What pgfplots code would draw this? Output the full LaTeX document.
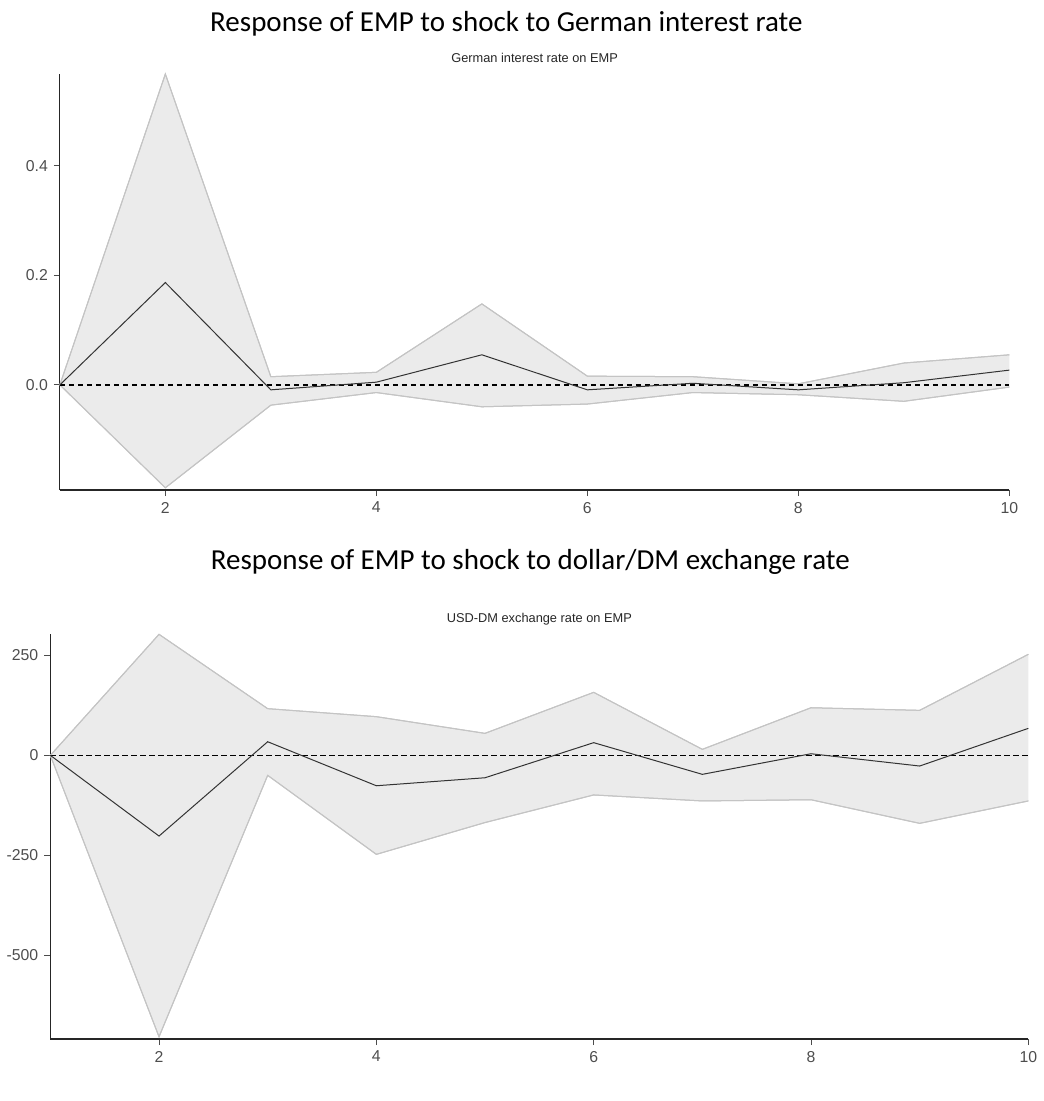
\documentclass[border=0pt]{standalone}
\usepackage{pgfplots}
\pgfplotsset{compat=1.18}
\usepgfplotslibrary{fillbetween}
\usepackage{fontspec}
\setmainfont{Liberation Sans}
\newfontfamily\titlefont{Carlito}

\definecolor{bandfill}{HTML}{EBEBEB}
\definecolor{bandedge}{HTML}{C4C4C4}
\definecolor{ticktext}{HTML}{4D4D4D}
\definecolor{irfline}{HTML}{333333}

% Impulse responses: horizon, lower bound, point estimate, upper bound
\pgfplotstableread{
h   lo       est      up
1   0.000    0.000    0.000
2  -0.188    0.187    0.568
3  -0.037   -0.009    0.015
4  -0.014    0.005    0.023
5  -0.040    0.055    0.148
6  -0.035   -0.009    0.016
7  -0.014    0.003    0.015
8  -0.018   -0.009    0.002
9  -0.030    0.004    0.040
10 -0.004    0.027    0.055
}\germanrate

\pgfplotstableread{
h   lo       est      up
1     0.0     0.0     0.0
2  -703.5  -201.7   302.5
3   -50.0    34.0   116.7
4  -247.5   -76.0    96.7
5  -168.0   -56.0    55.0
6   -99.0    31.7   157.5
7  -114.0   -47.5    15.0
8  -111.0     4.0   119.0
9  -170.0   -26.7   112.5
10 -114.0    67.5   252.5
}\usddm

\pgfplotsset{
  irf/.style={
    scale only axis,
    xmin=1, xmax=10,
    axis x line*=bottom, axis y line*=left,
    axis line style={-, black!85, line width=0.55pt},
    tick align=outside,
    major tick length=3pt,
    tick style={black!70, line width=0.5pt},
    xtick={2,4,6,8,10},
    xticklabels={2,4,6,8,10},
    tick label style={font=\fontsize{7.9}{9}\selectfont, text=ticktext},
    yticklabel style={xshift=0.5pt},
    xticklabel style={yshift=0.5pt},
    clip=false,
    title style={font=\fontsize{6.4}{7.5}\selectfont, text=black!85},
  },
}

\begin{document}
\begin{tikzpicture}[x=1pt,y=1pt]
\path (0,0) rectangle (519,-550.5);

% Upper panel
\node[font=\titlefont\fontsize{14.5}{17}\selectfont, anchor=base] at (252,-16)
  {Response of EMP to shock to German interest rate};
\begin{axis}[irf,
  at={(28.75pt,-245pt)}, anchor=south west,
  width=474.75pt, height=208pt,
  ymin=-0.192, ymax=0.568,
  ytick={0,0.2,0.4}, yticklabels={0.0,0.2,0.4},
  title={German interest rate on EMP},
  title style={at={(0.5,1)}, anchor=south, yshift=-4pt},
]
  \addplot[name path=up, draw=bandedge, line width=0.5pt] table[x=h, y=up] {\germanrate};
  \addplot[name path=lo, draw=bandedge, line width=0.5pt] table[x=h, y=lo] {\germanrate};
  \addplot[bandfill] fill between[of=up and lo];
  \addplot[draw=bandedge, line width=0.5pt] table[x=h, y=up] {\germanrate};
  \addplot[draw=bandedge, line width=0.5pt] table[x=h, y=lo] {\germanrate};
  \addplot[black, line width=0.6pt, dash pattern=on 2.6pt off 1.9pt] coordinates {(1,0) (10,0)};
  \addplot[irfline, line width=0.5pt] table[x=h, y=est] {\germanrate};
\end{axis}

% Lower panel
\node[font=\titlefont\fontsize{14.5}{17}\selectfont, anchor=base] at (264,-284.5)
  {Response of EMP to shock to dollar/DM exchange rate};
\begin{axis}[irf,
  at={(24pt,-519.5pt)}, anchor=south west,
  width=489pt, height=202.35pt,
  ymin=-709, ymax=302.5,
  ytick={-500,-250,0,250}, yticklabels={-500,-250,0,250},
  title={USD-DM exchange rate on EMP},
  title style={at={(0.5,1)}, anchor=south, yshift=-5pt},
]
  \addplot[name path=up, draw=bandedge, line width=0.5pt] table[x=h, y=up] {\usddm};
  \addplot[name path=lo, draw=bandedge, line width=0.5pt] table[x=h, y=lo] {\usddm};
  \addplot[bandfill] fill between[of=up and lo];
  \addplot[draw=bandedge, line width=0.5pt] table[x=h, y=up] {\usddm};
  \addplot[draw=bandedge, line width=0.5pt] table[x=h, y=lo] {\usddm};
  \addplot[black, line width=0.6pt, dash pattern=on 2.6pt off 1.9pt] coordinates {(1,0) (10,0)};
  \addplot[irfline, line width=0.5pt] table[x=h, y=est] {\usddm};
\end{axis}
\end{tikzpicture}
\end{document}
